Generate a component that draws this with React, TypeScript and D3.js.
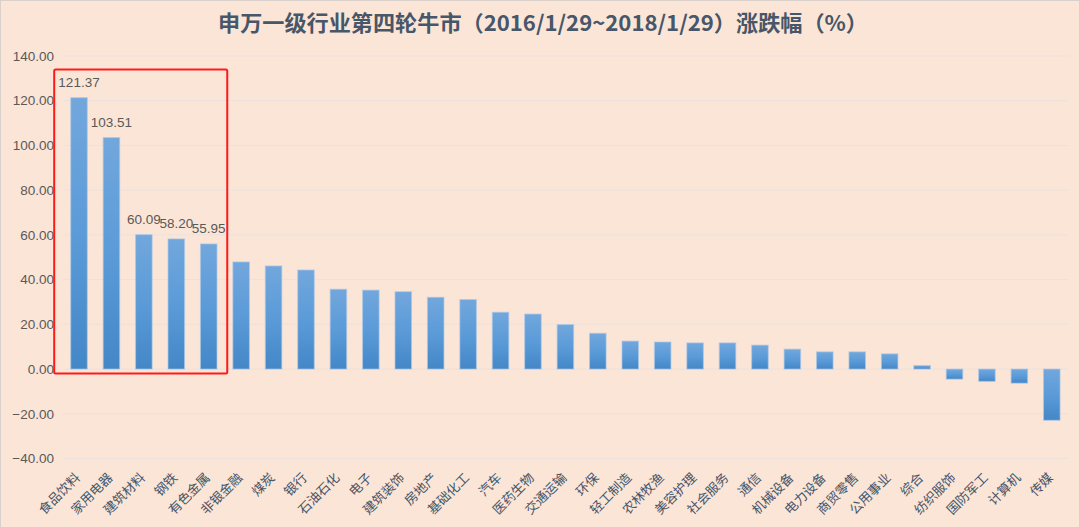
import React, { useEffect } from "react";
import * as d3 from "d3";

const categories = [
  "食品饮料", "家用电器", "建筑材料", "钢铁", "有色金属", "非银金融", "煤炭", "银行",
  "石油石化", "电子", "建筑装饰", "房地产", "基础化工", "汽车", "医药生物", "交通运输",
  "环保", "轻工制造", "农林牧渔", "美容护理", "社会服务", "通信", "机械设备", "电力设备",
  "商贸零售", "公用事业", "综合", "纺织服饰", "国防军工", "计算机", "传媒",
];
const values = [
  121.37, 103.51, 60.09, 58.2, 55.95, 47.9, 46.1, 44.3,
  35.7, 35.3, 34.6, 32.1, 31.1, 25.4, 24.6, 19.9,
  16.0, 12.5, 12.1, 11.7, 11.7, 10.7, 8.9, 7.7,
  7.7, 6.8, 1.6, -4.5, -5.5, -6.3, -22.9,
];
const labeledCount = 5;
const yTicks = [-40, -20, 0, 20, 40, 60, 80, 100, 120, 140];
const highlightRange = { from: 0, to: 4, low: -2, high: 134 };
const title = "申万一级行业第四轮牛市（2016/1/29~2018/1/29）涨跌幅（%）";

const W = 1080;
const H = 528;
const FONT = "'Liberation Sans', 'Noto Sans CJK SC', sans-serif";
const CJK = "'Noto Sans CJK SC', 'Liberation Sans', sans-serif";

export default function App() {
  useEffect(() => {
    document.body.style.margin = "0";
  }, []);

  const x = d3
    .scaleBand<string>()
    .domain(categories)
    .range([62.8, 1068])
    .paddingInner(0.49)
    .paddingOuter(0.245);
  const y = d3.scaleLinear().domain([-40, 140]).range([458.5, 56]);
  const fmt = d3.format(".2f");
  const bw = x.bandwidth();

  const hx0 = (x(categories[highlightRange.from]) as number) - bw;
  const hx1 = (x(categories[highlightRange.to]) as number) + bw * 1.5 + 2;

  return (
    <svg
      width={W}
      height={H}
      style={{ display: "block", position: "absolute", left: 0, top: 0 }}
    >
      <defs>
        <linearGradient id="barGrad" x1="0" y1="0" x2="0" y2="1">
          <stop offset="0%" stopColor="#72a7dc" />
          <stop offset="50%" stopColor="#5b9bd8" />
          <stop offset="100%" stopColor="#4487c7" />
        </linearGradient>
      </defs>
      <rect x={0} y={0} width={W} height={H} fill="#fbe5d6" />
      <rect x={0.5} y={0.5} width={W - 1} height={H - 1} fill="none" stroke="#d9d0cb" />
      <text
        x={W / 2 + 3}
        y={31}
        textAnchor="middle"
        fontFamily={CJK}
        fontSize={21.5}
        fontWeight={600}
        fill="#475669"
        textLength={650}
        lengthAdjust="spacingAndGlyphs"
      >
        {title}
      </text>
      {yTicks.map((t) => (
        <g key={t}>
          <line x1={62.8} x2={1068} y1={y(t)} y2={y(t)} stroke="#ebe1dd" strokeWidth={1} />
          <text
            x={54}
            y={y(t)}
            dy="0.35em"
            textAnchor="end"
            fontFamily={FONT}
            fontSize={13.5}
            fill="#595959"
          >
            {fmt(t)}
          </text>
        </g>
      ))}
      {categories.map((c, i) => {
        const v = values[i];
        const x0 = x(c) as number;
        const yTop = y(Math.max(0, v));
        const h = Math.abs(y(v) - y(0));
        return (
          <g key={c}>
            <rect
              x={x0}
              y={yTop}
              width={bw}
              height={h}
              fill="url(#barGrad)"
              stroke="#a9c8e8"
              strokeOpacity={0.7}
              strokeWidth={1}
            />
            {i < labeledCount && (
              <text
                x={x0 + bw / 2}
                y={y(v) - 10.5}
                textAnchor="middle"
                fontFamily={FONT}
                fontSize={13.5}
                fill="#595959"
              >
                {fmt(v)}
              </text>
            )}
            <text
              transform={`translate(${x0 + bw / 2 + 2},${y(-40) + 20}) rotate(-45)`}
              textAnchor="end"
              fontFamily={CJK}
              fontSize={13}
              fill="#44546a"
            >
              {c}
            </text>
          </g>
        );
      })}
      <rect
        x={hx0}
        y={y(highlightRange.high)}
        width={hx1 - hx0}
        height={y(highlightRange.low) - y(highlightRange.high)}
        fill="none"
        stroke="#ff1a1a"
        strokeWidth={2}
        rx={1.5}
      />
    </svg>
  );
}
